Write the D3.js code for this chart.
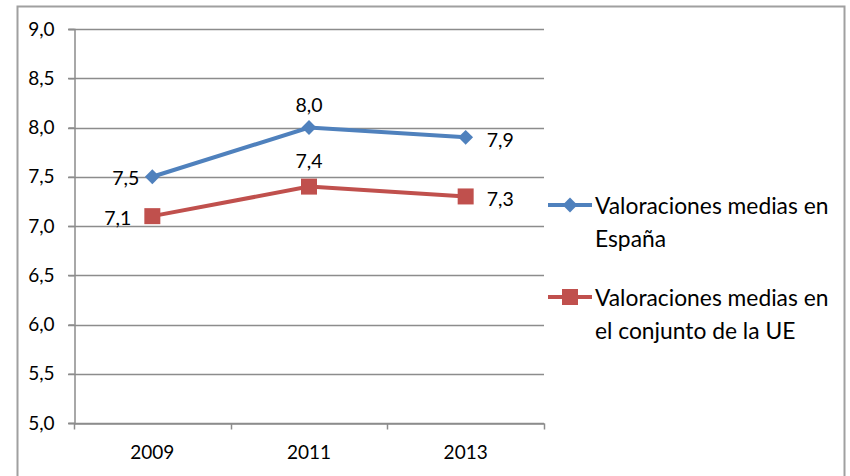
<!DOCTYPE html>
<html>
<head>
<meta charset="utf-8">
<script src="https://cdn.jsdelivr.net/npm/d3@7"></script>
<style>
  body { margin: 0; background: #fff; }
  text { font-family: Lato, 'Open Sans', sans-serif; fill: #000; }
</style>
</head>
<body>
<div id="view"></div>
<script>
'use strict';

const years = ['2009', '2011', '2013'];
const spainValues = [7.5, 8.0, 7.9];
const euValues = [7.1, 7.4, 7.3];
const seriesNames = [
  ['Valoraciones medias en', 'España'],
  ['Valoraciones medias en', 'el conjunto de la UE']
];
const yTicks = [5.0, 5.5, 6.0, 6.5, 7.0, 7.5, 8.0, 8.5, 9.0];

const size = { w: 850, h: 476 };
const plot = { left: 74, right: 544, top: 29, bottom: 423 };

const presentation = {
  stroke_frame: '#a0a0a0',
  stroke_grid: '#8c8c8c',
  blue: '#4F81BD',
  red: '#C0504D',
  fontTick: 19,
  fontLabel: 19.5,
  fontLegend: 22.8
};

const fmt = v => d3.format('.1f')(v).replace('.', ',');

const svg = d3.select('#view').append('svg')
  .attr('width', size.w)
  .attr('height', size.h);

// outer frame (bottom edge lies outside the picture)
svg.append('rect')
  .attr('x', 17.5)
  .attr('y', 6.5)
  .attr('width', 827)
  .attr('height', 490)
  .attr('fill', 'none')
  .attr('stroke', presentation.stroke_frame)
  .attr('stroke-width', 2);

const x = d3.scaleBand().domain(years).range([plot.left, plot.right]);
const y = d3.scaleLinear().domain([5, 9]).range([plot.bottom, plot.top]);
const cx = d => x(d) + x.bandwidth() / 2;

// gridlines
svg.append('g')
  .selectAll('line')
  .data(yTicks)
  .enter()
  .append('line')
  .attr('x1', plot.left - 6)
  .attr('x2', plot.right)
  .attr('y1', d => Math.round(y(d)) + 0.5)
  .attr('y2', d => Math.round(y(d)) + 0.5)
  .attr('stroke', presentation.stroke_grid)
  .attr('stroke-width', 1.5);

// y axis
const yAxis = svg.append('g')
  .attr('transform', `translate(${plot.left + 0.5},0)`)
  .call(d3.axisLeft(y).tickValues(yTicks).tickSize(6).tickPadding(14).tickFormat(fmt));
yAxis.selectAll('path, line').attr('stroke', presentation.stroke_grid).attr('stroke-width', 1.5);
yAxis.selectAll('text')
  .attr('font-size', presentation.fontTick)
  .attr('font-family', 'Lato, sans-serif')
  .attr('fill', '#000');

// x axis
const xAxis = svg.append('g')
  .attr('transform', `translate(0,${Math.round(plot.bottom) + 0.5})`)
  .call(d3.axisBottom(x).tickSize(0).tickPadding(22));
xAxis.select('.domain').attr('stroke', presentation.stroke_grid).attr('stroke-width', 1.5);
xAxis.selectAll('text')
  .attr('font-size', presentation.fontTick)
  .attr('font-family', 'Lato, sans-serif')
  .attr('fill', '#000');
xAxis.selectAll('.sep')
  .data([plot.left, ...years.map(d => x(d) + x.bandwidth())])
  .enter()
  .append('line')
  .attr('class', 'sep')
  .attr('x1', d => Math.round(d) + 0.5)
  .attr('x2', d => Math.round(d) + 0.5)
  .attr('y1', 0)
  .attr('y2', 6)
  .attr('stroke', presentation.stroke_grid)
  .attr('stroke-width', 1.5);

const line = d3.line().x((d, i) => cx(years[i])).y(d => y(d));

// Excel diamond = square turned by 45 degrees
const markerDef = {
  diamond: { type: d3.symbolSquare, size: 110, rotate: 45 },
  square: { type: d3.symbolSquare, size: 256, rotate: 0 }
};

function drawSeries(values, color, marker) {
  const g = svg.append('g');
  g.append('path')
    .attr('d', line(values))
    .attr('fill', 'none')
    .attr('stroke', color)
    .attr('stroke-width', 4);
  g.selectAll('.marker')
    .data(values)
    .enter()
    .append('path')
    .attr('class', 'marker')
    .attr('d', d3.symbol().type(marker.type).size(marker.size))
    .attr('transform', (d, i) => `translate(${cx(years[i])},${y(d)}) rotate(${marker.rotate})`)
    .attr('fill', color);
  return g;
}

const gSpain = drawSeries(spainValues, presentation.blue, markerDef.diamond);
const gEU = drawSeries(euValues, presentation.red, markerDef.square);

// data labels: left / above / right, as in the original
function addLabels(g, values, offsets) {
  g.selectAll('.label')
    .data(values)
    .enter()
    .append('text')
    .attr('class', 'label')
    .attr('x', (d, i) => cx(years[i]) + offsets[i][0])
    .attr('y', (d, i) => y(d) + offsets[i][1])
    .attr('text-anchor', (d, i) => offsets[i][2])
    .attr('dominant-baseline', 'central')
    .attr('font-size', presentation.fontLabel)
    .text(fmt);
}

addLabels(gSpain, spainValues, [[-13, 1, 'end'], [0, -23, 'middle'], [21, 2, 'start']]);
addLabels(gEU, euValues, [[-21, 1, 'end'], [0, -26, 'middle'], [21, 2, 'start']]);

// legend
const legend = [
  { color: presentation.blue, marker: markerDef.diamond, y: 205, names: seriesNames[0] },
  { color: presentation.red, marker: markerDef.square, y: 297, names: seriesNames[1] }
];

legend.forEach(item => {
  const g = svg.append('g').attr('transform', `translate(0,${item.y})`);
  g.append('line')
    .attr('x1', 548)
    .attr('x2', 592)
    .attr('stroke', item.color)
    .attr('stroke-width', 4);
  g.append('path')
    .attr('d', d3.symbol().type(item.marker.type).size(item.marker.size))
    .attr('transform', `translate(570,0) rotate(${item.marker.rotate})`)
    .attr('fill', item.color);
  g.selectAll('text')
    .data(item.names)
    .enter()
    .append('text')
    .attr('x', 595)
    .attr('y', (d, i) => i * 33)
    .attr('dominant-baseline', 'central')
    .attr('font-size', presentation.fontLegend)
    .text(d => d);
});
</script>
</body>
</html>
